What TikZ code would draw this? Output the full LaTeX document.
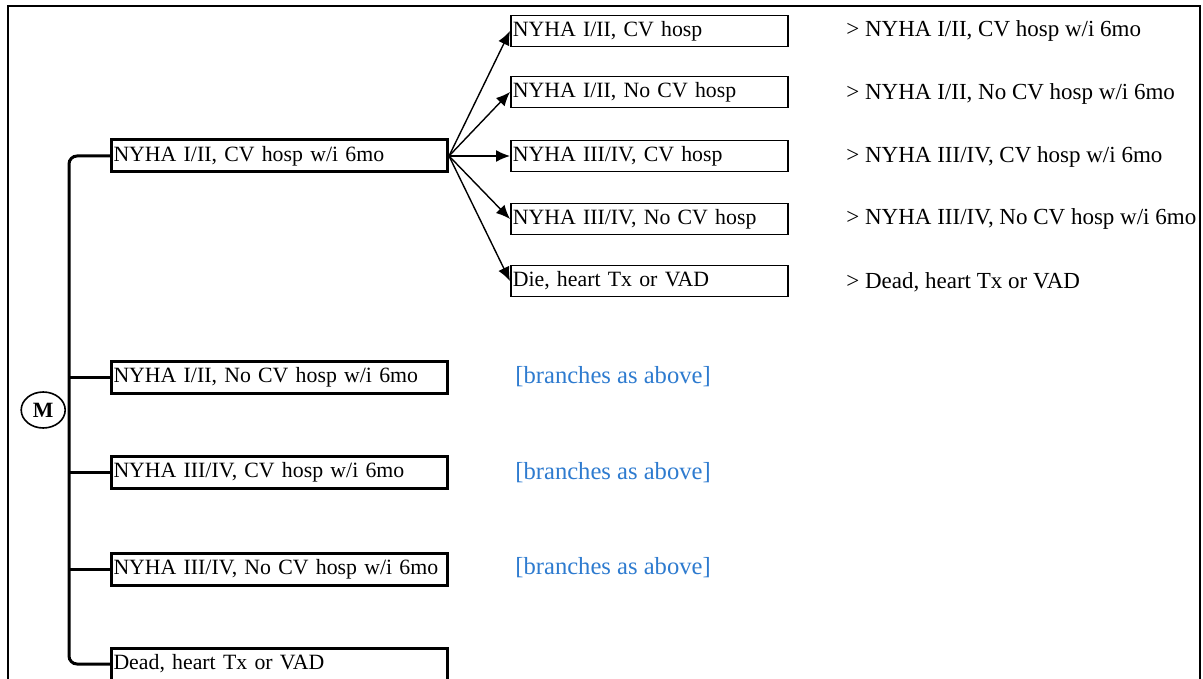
\documentclass[tikz,border=0pt]{standalone}
\usepackage{fontspec}
\setmainfont{Liberation Serif}
\usepackage{tikz}
\usetikzlibrary{arrows.meta,positioning,shapes.geometric}
\definecolor{cbranch}{HTML}{2E7BCF}
\tikzset{
  statebox/.style={draw, line width=1.5pt, anchor=west, minimum height=16pt, text width=166pt, inner xsep=1pt, inner ysep=0pt, align=left},
  subbox/.style={draw, line width=0.8pt, anchor=west, minimum height=15.5pt, text width=136.5pt, inner xsep=1pt, inner ysep=0pt, align=left},
  mnode/.style={draw, ellipse, line width=0.8pt, minimum width=22pt, minimum height=18pt, inner sep=0pt, font=\fontsize{10.9}{13}\selectfont\bfseries},
  trunk/.style={line width=1.5pt, rounded corners=4pt},
  arr/.style={-{Latex[length=7pt,width=6pt]}, line width=0.7pt},
  next/.style={anchor=west, inner sep=2pt, font=\fontsize{11.5}{13}\selectfont},
  same/.style={anchor=west, inner sep=2pt, text=cbranch, font=\fontsize{12.3}{14}\selectfont},
  frame/.style={line width=1pt},
}
\begin{document}
\begin{tikzpicture}[x=0.5pt, y=-0.5pt, every node/.append style={font=\fontsize{10.9}{13}\selectfont}]
\useasboundingbox (0,0) rectangle (1203,679);
\draw[frame] (8,679) -- (8,6) -- (1200,6) -- (1200,679);
% first level
\node[statebox] (main1) at (110,156) {NYHA I/II, CV hosp w/i 6mo};
\node[statebox] (main2) at (110,377) {NYHA I/II, No CV hosp w/i 6mo};
\node[statebox] (main3) at (110,472) {NYHA III/IV, CV hosp w/i 6mo};
\node[statebox] (main4) at (110,569) {NYHA III/IV, No CV hosp w/i 6mo};
\node[statebox] (main5) at (110,664) {Dead, heart Tx or VAD};
\node[mnode, anchor=east] (m) at (66,410) {M};
\coordinate (spine) at (69,400);
\draw[trunk] (main1.west) -| (spine) |- (main5.west);
\foreach \i in {2,3,4}
  \draw[trunk] (spine |- main\i.west) -- (main\i.west);
% second level
\node[subbox] (sub1) at (510,31) {NYHA I/II, CV hosp};
\node[subbox] (sub2) at (510,92) {NYHA I/II, No CV hosp};
\node[subbox] (sub3) at (510,156) {NYHA III/IV, CV hosp};
\node[subbox] (sub4) at (510,219) {NYHA III/IV, No CV hosp};
\node[subbox] (sub5) at (510,281) {Die, heart Tx or VAD};
\foreach \i in {1,...,5}
  \draw[arr] (main1.east) -- (sub\i.west);
\node[next] (nx1) at (842,31) {\textgreater{} NYHA I/II, CV hosp w/i 6mo};
\node[next] (nx2) at (842,94) {\textgreater{} NYHA I/II, No CV hosp w/i 6mo};
\node[next] (nx3) at (842,157) {\textgreater{} NYHA III/IV, CV hosp w/i 6mo};
\node[next] (nx4) at (842,219) {\textgreater{} NYHA III/IV, No CV hosp w/i 6mo};
\node[next] (nx5) at (842,282) {\textgreater{} Dead, heart Tx or VAD};
\node[same] (as2) at (511,377) {[branches as above]};
\node[same] (as3) at (511,473) {[branches as above]};
\node[same] (as4) at (511,568) {[branches as above]};
\end{tikzpicture}
\end{document}
